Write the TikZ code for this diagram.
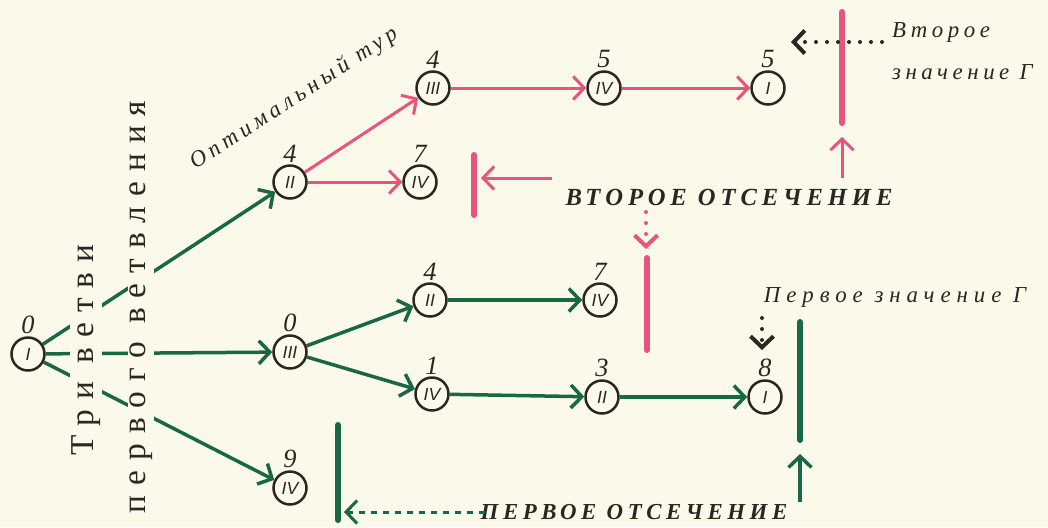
\documentclass[tikz,border=0pt]{standalone}
\usepackage{fontspec}
\setmainfont{Liberation Serif}
\setsansfont{Liberation Sans}
\newfontfamily\typefont[LetterSpace=30]{Liberation Serif}
\newfontfamily\widefont[LetterSpace=20]{Liberation Serif}
\newfontfamily\widerfont[LetterSpace=26]{Liberation Serif}
\usetikzlibrary{arrows.meta}
\definecolor{paper}{RGB}{251,249,234}
\definecolor{grn}{RGB}{24,104,70}
\definecolor{pnk}{RGB}{233,84,125}
\definecolor{ink}{RGB}{43,38,34}
\tikzset{
  vert/.style={circle, draw=ink, line width=0.5mm, minimum size=6.6mm, inner sep=0pt,
    font=\sffamily\itshape\fontsize{10}{10}\selectfont, text=ink},
  num/.style={font=\itshape\fontsize{15}{15}\selectfont, text=ink, inner sep=1pt},
  tip/.style={-{Straight Barb[length=2.2mm,width=4.6mm]}},
  gr/.style={draw=grn, line width=0.7mm, tip},
  pk/.style={draw=pnk, line width=0.6mm, tip},
  cut/.style={line width=1.2mm, line cap=round},
  dots/.style={line width=0.8mm, line cap=round, dash pattern=on 0pt off 2.2mm, tip},
  capt/.style={font=\widefont\itshape\fontsize{13}{15}\selectfont, text=ink, inner sep=1pt},
  bigcapt/.style={font=\widefont\bfseries\itshape\fontsize{14}{16}\selectfont, text=ink, inner sep=1pt},
  vtext/.style={rotate=90, fill=paper, inner sep=1pt, text=ink,
    font=\typefont\fontsize{19}{19}\selectfont},
}

\begin{document}
\begin{tikzpicture}[x=0.2mm, y=-0.2mm]
  \useasboundingbox (0,0) rectangle (1048,527);
  \fill[paper] (0,0) rectangle (1048,527);

  % the tree
  \node[vert, label={[num]above:0}] (R) at (28,354) {I};
  \node[vert, label={[num]above:4}] (A) at (290,182) {II};
  \node[vert, label={[num]above:0}] (B) at (290,352) {III};
  \node[vert, label={[num]above:9}] (C) at (290,488) {IV};
  \node[vert, label={[num]above:4}] (AA) at (433,88) {III};
  \node[vert, label={[num]above:7}] (AB) at (420,182) {IV};
  \node[vert, label={[num]above:4}] (BA) at (430,300) {II};
  \node[vert, label={[num]above:1}] (BB) at (432,394) {IV};
  \node[vert, label={[num]above:5}] (AAA) at (604,88) {IV};
  \node[vert, label={[num]above:5}] (AAAA) at (768,88) {I};
  \node[vert, label={[num]above:7}] (BAA) at (600,300) {IV};
  \node[vert, label={[num]above:3}] (BBA) at (602,397) {II};
  \node[vert, label={[num]above:8}] (BBAA) at (765,397) {I};

  \draw[gr] (R) -- (A);
  \draw[gr] (R) -- (B);
  \draw[gr] (R) -- (C);
  \draw[gr] (B) -- (BA);
  \draw[gr] (B) -- (BB);
  \draw[gr] (BA) -- (BAA);
  \draw[gr] (BB) -- (BBA);
  \draw[gr] (BBA) -- (BBAA);
  \draw[pk] (A) -- (AA);
  \draw[pk] (A) -- (AB);
  \draw[pk] (AA) -- (AAA);
  \draw[pk] (AAA) -- (AAAA);

  % vertical captions, they break the three first branches
  \node[vtext] (tb1) at (86,350) {Три ветви};
  \node[vtext] (tb2) at (141,307) {первого ветвления};
  \node[capt, rotate=33] (ot) at (294,99) {Оптимальный тур};

  % second cut
  \draw[cut, pnk] (474,155) -- (474,215);
  \draw[cut, pnk] (842,12) -- (842,123);
  \draw[cut, pnk] (647,258) -- (647,350);
  \node[bigcapt] (vt) at (729,197) {ВТОРОЕ ОТСЕЧЕНИЕ};
  \coordinate (p1) at (552,178);
  \coordinate (q1) at (481,178);
  \coordinate (p2) at (842,178);
  \coordinate (q2) at (842,137);
  \coordinate (p3) at (646,212);
  \coordinate (q3) at (646,249);
  \draw[pk] (p1) -- (q1);
  \draw[pk] (p2) -- (q2);
  \draw[pk, dots] (p3) -- (q3);

  % first cut
  \draw[cut, grn] (800,322) -- (800,440);
  \draw[cut, grn] (338,425) -- (338,520);
  \node[bigcapt, font=\widefont\bfseries\itshape\fontsize{13}{15}\selectfont] (pt) at (634,512) {ПЕРВОЕ ОТСЕЧЕНИЕ};
  \coordinate (p4) at (485,512);
  \coordinate (q4) at (344,512);
  \coordinate (p5) at (800,502);
  \coordinate (q5) at (800,454);
  \draw[gr, line width=0.6mm, dash pattern=on 1.2mm off 1.2mm] (p4) -- (q4);
  \draw[gr] (p5) -- (q5);

  % values of Gamma
  \node[capt, font=\widerfont\itshape\fontsize{13}{15}\selectfont] (pz) at (895,297) {Первое значение Г};
  \node[capt, anchor=west] (vz1) at (890,32) {Второе};
  \node[capt, anchor=west] (vz2) at (890,72) {значение Г};
  \coordinate (p6) at (882,42);
  \coordinate (q6) at (791,42);
  \coordinate (p7) at (762,318);
  \coordinate (q7) at (762,350);
  \draw[ink, dots] (p6) -- (q6);
  \draw[ink, dots] (p7) -- (q7);
\end{tikzpicture}
\end{document}
